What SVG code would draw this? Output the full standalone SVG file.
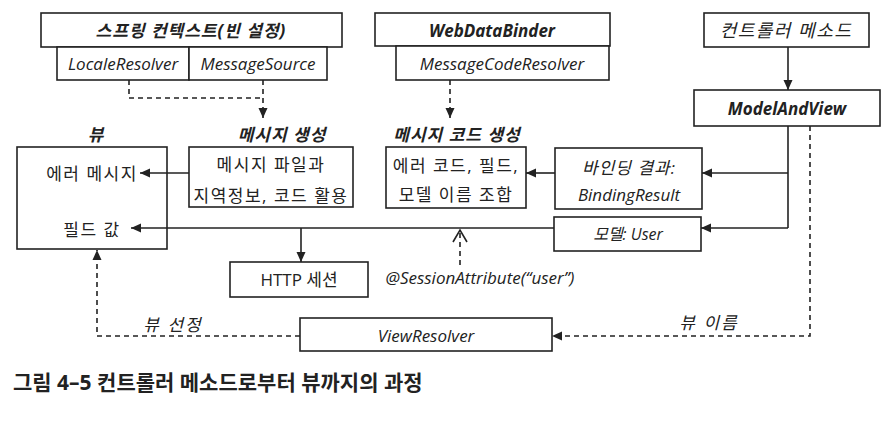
<svg xmlns="http://www.w3.org/2000/svg" width="896" height="424" viewBox="0 0 896 424">
<defs>
<marker id="ah" viewBox="0 0 10 10" refX="10" refY="5" markerWidth="10" markerHeight="10" markerUnits="userSpaceOnUse" orient="auto"><path d="M0,0.5 L10,5 L0,9.5 z" fill="#222"/></marker>
<style>
rect{fill:#fff;stroke:#222;stroke-width:1.6}
text{font-family:"Open Sans","Noto Sans CJK KR",sans-serif;fill:#222;text-anchor:middle;dominant-baseline:central}
.t{font-size:17px;letter-spacing:1.5px}
.i{font-size:17px;font-style:italic}
.bi{font-size:17px;font-style:italic;font-weight:bold}
.h{font-size:17px;font-style:italic;font-weight:bold;letter-spacing:1px}
.cap{font-size:21px;font-weight:bold;text-anchor:start}
.ln{fill:none;stroke:#222;stroke-width:1.6}
.ds{fill:none;stroke:#222;stroke-width:1.6;stroke-dasharray:5 4}
</style>
</defs>
<g id="ctx"><rect x="41" y="13" width="301" height="34"/><text class="h" x="191" y="30">스프링 컨텍스트(빈 설정)</text></g>
<g id="locale"><rect x="57" y="47" width="132" height="33"/><text class="i" x="123" y="63">LocaleResolver</text></g>
<g id="msgsrc"><rect x="189" y="47" width="138" height="33"/><text class="i" x="258" y="63">MessageSource</text></g>
<g id="wdb"><rect x="375" y="13" width="235" height="33"/><text class="bi" x="492" y="30">WebDataBinder</text></g>
<g id="mcr"><rect x="396" y="46" width="213" height="34"/><text class="i" x="502" y="63">MessageCodeResolver</text></g>
<g id="ctrl"><rect x="704" y="13" width="165" height="34"/><text class="i" x="786" y="30" style="font-size:18px;letter-spacing:1.5px">컨트롤러 메소드</text></g>
<g id="mav"><rect x="694" y="90" width="186" height="36"/><text class="bi" x="787" y="108">ModelAndView</text></g>
<g id="view"><text class="h" x="96" y="134">뷰</text><rect x="17" y="147" width="150" height="102"/><text class="t" x="92" y="173">에러 메시지</text><text class="t" x="92" y="229">필드 값</text></g>
<g id="msggen"><text class="h" x="282" y="134">메시지 생성</text><rect x="189" y="147" width="164" height="60"/><text class="t" x="271" y="164">메시지 파일과</text><text class="t" x="271" y="195">지역정보, 코드 활용</text></g>
<g id="codegen"><text class="h" x="457" y="134">메시지 코드 생성</text><rect x="386" y="147" width="140" height="61"/><text class="t" x="456" y="165">에러 코드, 필드,</text><text class="t" x="456" y="194">모델 이름 조합</text></g>
<g id="binding"><rect x="555" y="148" width="147" height="61"/><text class="i" x="629" y="167" style="letter-spacing:1px">바인딩 결과:</text><text class="i" x="629" y="194">BindingResult</text></g>
<g id="model"><rect x="554" y="217" width="147" height="34"/><text class="i" x="628" y="234" style="font-size:16px">모델: User</text></g>
<g id="http"><rect x="230" y="262" width="138" height="35"/><text class="t" x="299" y="279" style="letter-spacing:0">HTTP 세션</text></g>
<g id="session"><text class="i" x="480" y="277">@SessionAttribute(“user”)</text></g>
<g id="viewresolver"><rect x="300" y="318" width="252" height="33"/><text class="i" x="426" y="335">ViewResolver</text></g>
<g id="labels"><text class="i" x="173" y="324" style="letter-spacing:2px">뷰 선정</text><text class="i" x="709" y="322" style="letter-spacing:2px">뷰 이름</text></g>
<g id="connectors">
<path class="ds" d="M129,80 V98 H263"/>
<path class="ds" d="M263,80 V118" marker-end="url(#ah)"/>
<path class="ds" d="M450,80 V118" marker-end="url(#ah)"/>
<path class="ln" d="M788,47 V90" marker-end="url(#ah)"/>
<path class="ln" d="M788,126 V228"/>
<path class="ln" d="M788,173 H702" marker-end="url(#ah)"/>
<path class="ln" d="M788,228 H701" marker-end="url(#ah)"/>
<path class="ln" d="M555,173 H526" marker-end="url(#ah)"/>
<path class="ln" d="M189,173 H140" marker-end="url(#ah)"/>
<path class="ln" d="M554,228 H131" marker-end="url(#ah)"/>
<path class="ln" d="M301,228 V262" marker-end="url(#ah)"/>
<path class="ds" d="M460,265 V232"/>
<polyline class="ln" points="453,242 460,230 467,242"/>
<path class="ds" d="M810,126 V336 H552" marker-end="url(#ah)"/>
<path class="ds" d="M300,336 H97 V250" marker-end="url(#ah)"/>
</g>
<text class="cap" x="13" y="382">그림 4–5 컨트롤러 메소드로부터 뷰까지의 과정</text>
</svg>
